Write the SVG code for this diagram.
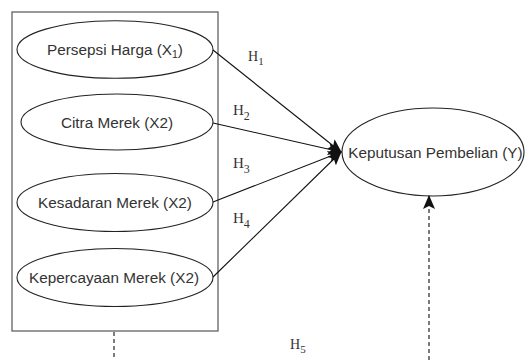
<svg xmlns="http://www.w3.org/2000/svg" width="525" height="360" viewBox="0 0 525 360">
<defs>
<style>
.box{fill:none;stroke:#555;stroke-width:1.2}
.node ellipse{fill:#fff;stroke:#222;stroke-width:1.1}
.lbl{font-family:"Liberation Sans",Arial,sans-serif;font-size:15.3px;fill:#333;text-anchor:middle}
.h{font-family:"Liberation Serif","Times New Roman",serif;fill:#333}
.ln{stroke:#111;stroke-width:1.1;fill:none}
.dash{stroke:#111;stroke-width:1.1;fill:none;stroke-dasharray:4 3}
</style>
<marker id="arr" markerUnits="userSpaceOnUse" markerWidth="14" markerHeight="12" viewBox="0 0 14 12" refX="13" refY="6" orient="auto">
<path d="M0,0 L14,6 L0,12 L3,6 Z" fill="#111"/>
</marker>
</defs>
<rect class="box" x="12" y="12" width="206" height="319"/>
<g id="x1" class="node">
<ellipse cx="115" cy="49.5" rx="98" ry="28.8"/>
<text class="lbl" x="115" y="55">Persepsi Harga (X<tspan font-size="10.5px" dy="3">1</tspan><tspan dy="-3">)</tspan></text>
</g>
<g id="x2" class="node">
<ellipse cx="117" cy="122" rx="96" ry="28"/>
<text class="lbl" x="117" y="128">Citra Merek (X2)</text>
</g>
<g id="x3" class="node">
<ellipse cx="115" cy="202.5" rx="98" ry="29"/>
<text class="lbl" x="115" y="208">Kesadaran Merek (X2)</text>
</g>
<g id="x4" class="node">
<ellipse cx="115" cy="277.5" rx="98" ry="29"/>
<text class="lbl" x="114" y="283">Kepercayaan Merek (X2)</text>
</g>
<g id="y" class="node">
<ellipse cx="433" cy="152" rx="91" ry="44"/>
<text class="lbl" x="435.5" y="158">Keputusan Pembelian (Y)</text>
</g>
<g id="connectors">
<line class="ln" x1="213" y1="50" x2="341" y2="152" marker-end="url(#arr)"/>
<line class="ln" x1="213" y1="123" x2="341" y2="152" marker-end="url(#arr)"/>
<line class="ln" x1="213" y1="202" x2="341" y2="152" marker-end="url(#arr)"/>
<line class="ln" x1="213" y1="277" x2="341" y2="152" marker-end="url(#arr)"/>
<line class="dash" x1="429" y1="360" x2="429" y2="196" marker-end="url(#arr)"/>
<line class="dash" x1="114" y1="332" x2="114" y2="360"/>
</g>
<g id="labels">
<text class="h" x="248" y="61" font-size="14px">H<tspan font-size="11px" dy="4">1</tspan></text>
<text class="h" x="233" y="115" font-size="15px">H<tspan font-size="12px" dy="5">2</tspan></text>
<text class="h" x="233" y="168" font-size="15px">H<tspan font-size="12px" dy="5">3</tspan></text>
<text class="h" x="233" y="223" font-size="15px">H<tspan font-size="12px" dy="5">4</tspan></text>
<text class="h" x="290" y="349" font-size="14px">H<tspan font-size="11px" dy="4">5</tspan></text>
</g>
</svg>
